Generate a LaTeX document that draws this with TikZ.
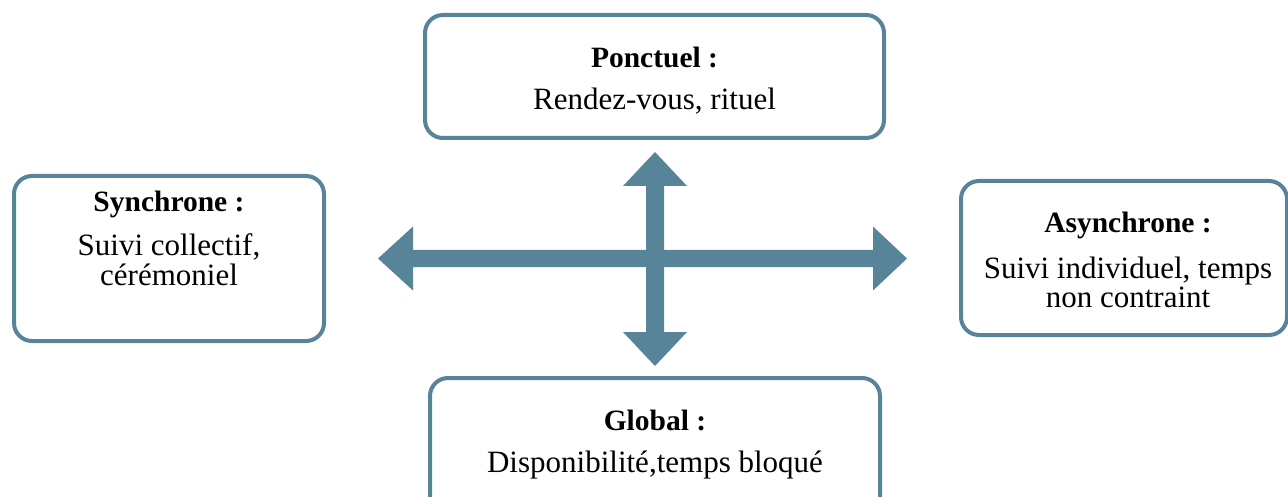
\documentclass[tikz,border=0pt]{standalone}
\usepackage{fontspec}
\setmainfont{Liberation Serif}
\definecolor{steel}{RGB}{88,132,154}
\tikzset{
  box/.style={draw=steel, line width=4pt, rounded corners=18pt, rectangle, inner sep=0pt, fill=white},
  head/.style={anchor=base, font=\fontsize{29.5}{32}\selectfont\bfseries, inner sep=0pt},
  body/.style={anchor=base, font=\fontsize{31}{34}\selectfont, inner sep=0pt},
  arr/.style={fill=steel, draw=none}
}
\begin{document}
\begin{tikzpicture}[x=1pt,y=-1pt]
\useasboundingbox (0,0) rectangle (1288,497);
\clip (0,0) rectangle (1288,497);
% boxes
\node[box, minimum width=459pt, minimum height=123pt] (ponc) at (654.5,76.5) {};
\node[box, minimum width=310pt, minimum height=165pt] (sync) at (169,258.5) {};
\node[box, minimum width=326pt, minimum height=154pt] (async) at (1124,258) {};
\node[box, minimum width=450pt, minimum height=142pt] (glob) at (655,449) {};
% texts
\node[head] (ponch) at (654.5,68) {Ponctuel :};
\node[body] (poncb) at (654.5,110) {Rendez-vous, rituel};
\node[head] (synch) at (169,212) {Synchrone :};
\node[body] (syncb1) at (169,255) {Suivi collectif,};
\node[body] (syncb2) at (169,285) {cérémoniel};
\node[head] (asynch) at (1128,233) {Asynchrone :};
\node[body] (asyncb1) at (1128,278) {Suivi individuel, temps};
\node[body] (asyncb2) at (1128,307) {non contraint};
\node[head] (globh) at (655,430) {Global :};
\node[body] (globb) at (655,472) {Disponibilité,temps bloqué};
% arrows
\coordinate (c) at (655,258.5);
\fill[arr] (378,258.5) -- (413,226.5) -- (413,250) -- (873,250) -- (873,226.5) -- (907,258.5)
  -- (873,290.5) -- (873,267) -- (413,267) -- (413,290.5) -- cycle;
\fill[arr] (655,152) -- (687,186) -- (664,186) -- (664,332) -- (687,332) -- (655,366)
  -- (623,332) -- (646,332) -- (646,186) -- (623,186) -- cycle;
\end{tikzpicture}
\end{document}
